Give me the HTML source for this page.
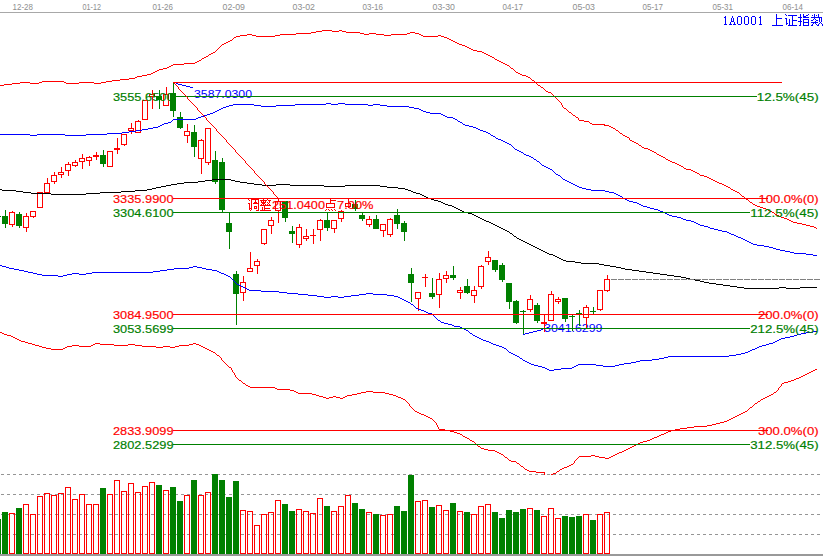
<!DOCTYPE html><html><head><meta charset="utf-8"><style>html,body{margin:0;padding:0;background:#fff;width:823px;height:557px;overflow:hidden}svg{display:block}text{font-family:"Liberation Sans",sans-serif}.b{stroke-width:0.16px}.bb{stroke-width:0.12px}.bc{stroke-width:0.45px}</style></head><body>
<svg width="823" height="557" viewBox="0 0 823 557">
<defs><clipPath id="main"><rect x="0" y="13" width="823" height="461.5"/></clipPath></defs>
<rect x="0" y="12" width="823" height="1" fill="#a8a8a8" shape-rendering="crispEdges"/>
<text x="12.6" y="10" font-size="9.8" fill="#8e8e8e" textLength="20.4" lengthAdjust="spacingAndGlyphs">12-28</text>
<text x="82.6" y="10" font-size="9.8" fill="#8e8e8e" textLength="18.4" lengthAdjust="spacingAndGlyphs">01-12</text>
<text x="152.6" y="10" font-size="9.8" fill="#8e8e8e" textLength="20.4" lengthAdjust="spacingAndGlyphs">01-26</text>
<text x="222.6" y="10" font-size="9.8" fill="#8e8e8e" textLength="22.4" lengthAdjust="spacingAndGlyphs">02-09</text>
<text x="292.6" y="10" font-size="9.8" fill="#8e8e8e" textLength="22.4" lengthAdjust="spacingAndGlyphs">03-02</text>
<text x="362.6" y="10" font-size="9.8" fill="#8e8e8e" textLength="20.4" lengthAdjust="spacingAndGlyphs">03-16</text>
<text x="432.6" y="10" font-size="9.8" fill="#8e8e8e" textLength="22.4" lengthAdjust="spacingAndGlyphs">03-30</text>
<text x="502.6" y="10" font-size="9.8" fill="#8e8e8e" textLength="20.4" lengthAdjust="spacingAndGlyphs">04-17</text>
<text x="572.6" y="10" font-size="9.8" fill="#8e8e8e" textLength="22.4" lengthAdjust="spacingAndGlyphs">05-03</text>
<text x="642.6" y="10" font-size="9.8" fill="#8e8e8e" textLength="20.4" lengthAdjust="spacingAndGlyphs">05-17</text>
<text x="712.6" y="10" font-size="9.8" fill="#8e8e8e" textLength="20.4" lengthAdjust="spacingAndGlyphs">05-31</text>
<text x="782.6" y="10" font-size="9.8" fill="#8e8e8e" textLength="20.4" lengthAdjust="spacingAndGlyphs">06-14</text>
<line x1="1" y1="474.5" x2="820" y2="474.5" stroke="#959595" stroke-width="1" stroke-dasharray="3 3" shape-rendering="crispEdges"/>
<line x1="1" y1="494.5" x2="820" y2="494.5" stroke="#959595" stroke-width="1" stroke-dasharray="3 3" shape-rendering="crispEdges"/>
<line x1="1" y1="514.5" x2="820" y2="514.5" stroke="#959595" stroke-width="1" stroke-dasharray="3 3" shape-rendering="crispEdges"/>
<line x1="1" y1="534.5" x2="820" y2="534.5" stroke="#959595" stroke-width="1" stroke-dasharray="3 3" shape-rendering="crispEdges"/>
<rect x="0" y="554" width="823" height="2" fill="#999999" shape-rendering="crispEdges"/>
<g shape-rendering="crispEdges">
<rect x="-5" y="519" width="6" height="35" fill="#008000"/>
<rect x="2" y="512" width="6" height="42" fill="#008000"/>
<rect x="9.5" y="513.5" width="5" height="40" fill="none" stroke="#ff0000" stroke-width="1"/>
<rect x="16" y="508" width="6" height="46" fill="#008000"/>
<rect x="23.5" y="504.5" width="5" height="49" fill="none" stroke="#ff0000" stroke-width="1"/>
<rect x="30.5" y="514.5" width="5" height="39" fill="none" stroke="#ff0000" stroke-width="1"/>
<rect x="37.5" y="496.5" width="5" height="57" fill="none" stroke="#ff0000" stroke-width="1"/>
<rect x="44.5" y="493.5" width="5" height="60" fill="none" stroke="#ff0000" stroke-width="1"/>
<rect x="51.5" y="495.5" width="5" height="58" fill="none" stroke="#ff0000" stroke-width="1"/>
<rect x="58.5" y="493.5" width="5" height="60" fill="none" stroke="#ff0000" stroke-width="1"/>
<rect x="65.5" y="487.5" width="5" height="66" fill="none" stroke="#ff0000" stroke-width="1"/>
<rect x="72.5" y="499.5" width="5" height="54" fill="none" stroke="#ff0000" stroke-width="1"/>
<rect x="79.5" y="494.5" width="5" height="59" fill="none" stroke="#ff0000" stroke-width="1"/>
<rect x="86.5" y="504.5" width="5" height="49" fill="none" stroke="#ff0000" stroke-width="1"/>
<rect x="93.5" y="504.5" width="5" height="49" fill="none" stroke="#ff0000" stroke-width="1"/>
<rect x="100" y="488" width="6" height="66" fill="#008000"/>
<rect x="107.5" y="494.5" width="5" height="59" fill="none" stroke="#ff0000" stroke-width="1"/>
<rect x="114.5" y="480.5" width="5" height="73" fill="none" stroke="#ff0000" stroke-width="1"/>
<rect x="121.5" y="491.5" width="5" height="62" fill="none" stroke="#ff0000" stroke-width="1"/>
<rect x="128.5" y="483.5" width="5" height="70" fill="none" stroke="#ff0000" stroke-width="1"/>
<rect x="135.5" y="492.5" width="5" height="61" fill="none" stroke="#ff0000" stroke-width="1"/>
<rect x="142.5" y="486.5" width="5" height="67" fill="none" stroke="#ff0000" stroke-width="1"/>
<rect x="149.5" y="482.5" width="5" height="71" fill="none" stroke="#ff0000" stroke-width="1"/>
<rect x="156" y="485" width="6" height="69" fill="#008000"/>
<rect x="163.5" y="490.5" width="5" height="63" fill="none" stroke="#ff0000" stroke-width="1"/>
<rect x="170" y="487" width="6" height="67" fill="#008000"/>
<rect x="177" y="501" width="6" height="53" fill="#008000"/>
<rect x="184.5" y="495.5" width="5" height="58" fill="none" stroke="#ff0000" stroke-width="1"/>
<rect x="191" y="480" width="6" height="74" fill="#008000"/>
<rect x="198.5" y="495.5" width="5" height="58" fill="none" stroke="#ff0000" stroke-width="1"/>
<rect x="205.5" y="492.5" width="5" height="61" fill="none" stroke="#ff0000" stroke-width="1"/>
<rect x="212" y="474" width="6" height="80" fill="#008000"/>
<rect x="219" y="480" width="6" height="74" fill="#008000"/>
<rect x="226" y="497" width="6" height="57" fill="#008000"/>
<rect x="233" y="481" width="6" height="73" fill="#008000"/>
<rect x="240.5" y="510.5" width="5" height="43" fill="none" stroke="#ff0000" stroke-width="1"/>
<rect x="247.5" y="511.5" width="5" height="42" fill="none" stroke="#ff0000" stroke-width="1"/>
<rect x="254.5" y="525.5" width="5" height="28" fill="none" stroke="#ff0000" stroke-width="1"/>
<rect x="261.5" y="514.5" width="5" height="39" fill="none" stroke="#ff0000" stroke-width="1"/>
<rect x="268.5" y="512.5" width="5" height="41" fill="none" stroke="#ff0000" stroke-width="1"/>
<rect x="275.5" y="500.5" width="5" height="53" fill="none" stroke="#ff0000" stroke-width="1"/>
<rect x="282" y="504" width="6" height="50" fill="#008000"/>
<rect x="289" y="511" width="6" height="43" fill="#008000"/>
<rect x="296.5" y="509.5" width="5" height="44" fill="none" stroke="#ff0000" stroke-width="1"/>
<rect x="303.5" y="511.5" width="5" height="42" fill="none" stroke="#ff0000" stroke-width="1"/>
<rect x="310.5" y="513.5" width="5" height="40" fill="none" stroke="#ff0000" stroke-width="1"/>
<rect x="317.5" y="498.5" width="5" height="55" fill="none" stroke="#ff0000" stroke-width="1"/>
<rect x="324" y="506" width="6" height="48" fill="#008000"/>
<rect x="331.5" y="511.5" width="5" height="42" fill="none" stroke="#ff0000" stroke-width="1"/>
<rect x="338.5" y="506.5" width="5" height="47" fill="none" stroke="#ff0000" stroke-width="1"/>
<rect x="345.5" y="495.5" width="5" height="58" fill="none" stroke="#ff0000" stroke-width="1"/>
<rect x="352" y="503" width="6" height="51" fill="#008000"/>
<rect x="359" y="509" width="6" height="45" fill="#008000"/>
<rect x="366.5" y="512.5" width="5" height="41" fill="none" stroke="#ff0000" stroke-width="1"/>
<rect x="373" y="514" width="6" height="40" fill="#008000"/>
<rect x="380.5" y="515.5" width="5" height="38" fill="none" stroke="#ff0000" stroke-width="1"/>
<rect x="387.5" y="514.5" width="5" height="39" fill="none" stroke="#ff0000" stroke-width="1"/>
<rect x="394" y="506" width="6" height="48" fill="#008000"/>
<rect x="401" y="511" width="6" height="43" fill="#008000"/>
<rect x="408" y="475" width="6" height="79" fill="#008000"/>
<rect x="415.5" y="501.5" width="5" height="52" fill="none" stroke="#ff0000" stroke-width="1"/>
<rect x="422.5" y="500.5" width="5" height="53" fill="none" stroke="#ff0000" stroke-width="1"/>
<rect x="429" y="507" width="6" height="47" fill="#008000"/>
<rect x="436.5" y="505.5" width="5" height="48" fill="none" stroke="#ff0000" stroke-width="1"/>
<rect x="443.5" y="510.5" width="5" height="43" fill="none" stroke="#ff0000" stroke-width="1"/>
<rect x="450" y="503" width="6" height="51" fill="#008000"/>
<rect x="457.5" y="511.5" width="5" height="42" fill="none" stroke="#ff0000" stroke-width="1"/>
<rect x="464" y="512" width="6" height="42" fill="#008000"/>
<rect x="471.5" y="514.5" width="5" height="39" fill="none" stroke="#ff0000" stroke-width="1"/>
<rect x="478.5" y="506.5" width="5" height="47" fill="none" stroke="#ff0000" stroke-width="1"/>
<rect x="485.5" y="504.5" width="5" height="49" fill="none" stroke="#ff0000" stroke-width="1"/>
<rect x="492" y="512" width="6" height="42" fill="#008000"/>
<rect x="499" y="518" width="6" height="36" fill="#008000"/>
<rect x="506" y="510" width="6" height="44" fill="#008000"/>
<rect x="513" y="512" width="6" height="42" fill="#008000"/>
<rect x="520" y="509" width="6" height="45" fill="#008000"/>
<rect x="527.5" y="508.5" width="5" height="45" fill="none" stroke="#ff0000" stroke-width="1"/>
<rect x="534" y="510" width="6" height="44" fill="#008000"/>
<rect x="541.5" y="516.5" width="5" height="37" fill="none" stroke="#ff0000" stroke-width="1"/>
<rect x="548.5" y="508.5" width="5" height="45" fill="none" stroke="#ff0000" stroke-width="1"/>
<rect x="555.5" y="518.5" width="5" height="35" fill="none" stroke="#ff0000" stroke-width="1"/>
<rect x="562" y="516" width="6" height="38" fill="#008000"/>
<rect x="569" y="517" width="6" height="37" fill="#008000"/>
<rect x="576" y="516" width="6" height="38" fill="#008000"/>
<rect x="583.5" y="514.5" width="5" height="39" fill="none" stroke="#ff0000" stroke-width="1"/>
<rect x="590" y="520" width="6" height="34" fill="#008000"/>
<rect x="597.5" y="514.5" width="5" height="39" fill="none" stroke="#ff0000" stroke-width="1"/>
<rect x="604.5" y="512.5" width="5" height="41" fill="none" stroke="#ff0000" stroke-width="1"/>
</g>
<text x="194" y="98" font-size="11.2" fill="#0000ff" textLength="58" lengthAdjust="spacingAndGlyphs">3587.0300</text>
<text x="544" y="332" font-size="11.2" fill="#0000ff" textLength="58.5" lengthAdjust="spacingAndGlyphs">3041.6299</text>
<g shape-rendering="crispEdges" clip-path="url(#main)">
<rect x="-2" y="216" width="1" height="1" fill="#008000"/>
<rect x="-5" y="216" width="6" height="1" fill="#008000"/>
<rect x="5" y="210" width="1" height="18" fill="#008000"/>
<rect x="2" y="216" width="6" height="8" fill="#008000"/>
<rect x="12" y="211" width="1" height="1" fill="#ff0000"/>
<rect x="12" y="225" width="1" height="2" fill="#ff0000"/>
<rect x="9.5" y="212.5" width="5" height="12" fill="none" stroke="#ff0000" stroke-width="1"/>
<rect x="19" y="212" width="1" height="16" fill="#008000"/>
<rect x="16" y="214" width="6" height="12" fill="#008000"/>
<rect x="26" y="213" width="1" height="3" fill="#ff0000"/>
<rect x="26" y="228" width="1" height="4" fill="#ff0000"/>
<rect x="23.5" y="216.5" width="5" height="11" fill="none" stroke="#ff0000" stroke-width="1"/>
<rect x="33" y="217" width="1" height="1" fill="#ff0000"/>
<rect x="30.5" y="211.5" width="5" height="5" fill="none" stroke="#ff0000" stroke-width="1"/>
<rect x="37.5" y="192.5" width="5" height="15" fill="none" stroke="#ff0000" stroke-width="1"/>
<rect x="47" y="178" width="1" height="5" fill="#ff0000"/>
<rect x="44.5" y="183.5" width="5" height="9" fill="none" stroke="#ff0000" stroke-width="1"/>
<rect x="54" y="172" width="1" height="3" fill="#ff0000"/>
<rect x="54" y="182" width="1" height="2" fill="#ff0000"/>
<rect x="51.5" y="175.5" width="5" height="6" fill="none" stroke="#ff0000" stroke-width="1"/>
<rect x="61" y="167" width="1" height="5" fill="#ff0000"/>
<rect x="61" y="175" width="1" height="3" fill="#ff0000"/>
<rect x="58.5" y="172.5" width="5" height="2" fill="none" stroke="#ff0000" stroke-width="1"/>
<rect x="68" y="162" width="1" height="2" fill="#ff0000"/>
<rect x="68" y="171" width="1" height="5" fill="#ff0000"/>
<rect x="65.5" y="164.5" width="5" height="6" fill="none" stroke="#ff0000" stroke-width="1"/>
<rect x="75" y="160" width="1" height="2" fill="#ff0000"/>
<rect x="75" y="166" width="1" height="1" fill="#ff0000"/>
<rect x="72.5" y="162.5" width="5" height="3" fill="none" stroke="#ff0000" stroke-width="1"/>
<rect x="82" y="154" width="1" height="4" fill="#ff0000"/>
<rect x="82" y="162" width="1" height="7" fill="#ff0000"/>
<rect x="79.5" y="158.5" width="5" height="3" fill="none" stroke="#ff0000" stroke-width="1"/>
<rect x="89" y="156" width="1" height="1" fill="#ff0000"/>
<rect x="89" y="161" width="1" height="5" fill="#ff0000"/>
<rect x="86.5" y="157.5" width="5" height="3" fill="none" stroke="#ff0000" stroke-width="1"/>
<rect x="96" y="152" width="1" height="3" fill="#ff0000"/>
<rect x="96" y="157" width="1" height="3" fill="#ff0000"/>
<rect x="93" y="155" width="6" height="2" fill="#ff0000"/>
<rect x="103" y="150" width="1" height="17" fill="#008000"/>
<rect x="100" y="155" width="6" height="9" fill="#008000"/>
<rect x="107.5" y="151.5" width="5" height="15" fill="none" stroke="#ff0000" stroke-width="1"/>
<rect x="117" y="138" width="1" height="10" fill="#ff0000"/>
<rect x="117" y="150" width="1" height="4" fill="#ff0000"/>
<rect x="114" y="148" width="6" height="2" fill="#ff0000"/>
<rect x="124" y="145" width="1" height="1" fill="#ff0000"/>
<rect x="121.5" y="134.5" width="5" height="10" fill="none" stroke="#ff0000" stroke-width="1"/>
<rect x="131" y="123" width="1" height="5" fill="#ff0000"/>
<rect x="131" y="131" width="1" height="3" fill="#ff0000"/>
<rect x="128.5" y="128.5" width="5" height="2" fill="none" stroke="#ff0000" stroke-width="1"/>
<rect x="138" y="120" width="1" height="1" fill="#ff0000"/>
<rect x="135.5" y="121.5" width="5" height="11" fill="none" stroke="#ff0000" stroke-width="1"/>
<rect x="142.5" y="100.5" width="5" height="19" fill="none" stroke="#ff0000" stroke-width="1"/>
<rect x="152" y="90" width="1" height="4" fill="#ff0000"/>
<rect x="152" y="97" width="1" height="12" fill="#ff0000"/>
<rect x="149.5" y="94.5" width="5" height="2" fill="none" stroke="#ff0000" stroke-width="1"/>
<rect x="159" y="90" width="1" height="19" fill="#008000"/>
<rect x="156" y="96" width="6" height="4" fill="#008000"/>
<rect x="166" y="87" width="1" height="7" fill="#ff0000"/>
<rect x="163.5" y="94.5" width="5" height="11" fill="none" stroke="#ff0000" stroke-width="1"/>
<rect x="173" y="82" width="1" height="35" fill="#008000"/>
<rect x="170" y="93" width="6" height="18" fill="#008000"/>
<rect x="180" y="112" width="1" height="17" fill="#008000"/>
<rect x="177" y="117" width="6" height="11" fill="#008000"/>
<rect x="187" y="124" width="1" height="7" fill="#ff0000"/>
<rect x="187" y="136" width="1" height="7" fill="#ff0000"/>
<rect x="184.5" y="131.5" width="5" height="4" fill="none" stroke="#ff0000" stroke-width="1"/>
<rect x="194" y="125" width="1" height="32" fill="#008000"/>
<rect x="191" y="132" width="6" height="15" fill="#008000"/>
<rect x="201" y="139" width="1" height="1" fill="#ff0000"/>
<rect x="201" y="159" width="1" height="15" fill="#ff0000"/>
<rect x="198.5" y="140.5" width="5" height="18" fill="none" stroke="#ff0000" stroke-width="1"/>
<rect x="208" y="163" width="1" height="2" fill="#ff0000"/>
<rect x="205.5" y="128.5" width="5" height="34" fill="none" stroke="#ff0000" stroke-width="1"/>
<rect x="215" y="151" width="1" height="33" fill="#008000"/>
<rect x="212" y="160" width="6" height="22" fill="#008000"/>
<rect x="222" y="158" width="1" height="54" fill="#008000"/>
<rect x="219" y="162" width="6" height="48" fill="#008000"/>
<rect x="229" y="213" width="1" height="36" fill="#008000"/>
<rect x="226" y="223" width="6" height="9" fill="#008000"/>
<rect x="236" y="271" width="1" height="54" fill="#008000"/>
<rect x="233" y="274" width="6" height="20" fill="#008000"/>
<rect x="243" y="276" width="1" height="6" fill="#ff0000"/>
<rect x="243" y="293" width="1" height="8" fill="#ff0000"/>
<rect x="240.5" y="282.5" width="5" height="10" fill="none" stroke="#ff0000" stroke-width="1"/>
<rect x="250" y="252" width="1" height="16" fill="#ff0000"/>
<rect x="247.5" y="268.5" width="5" height="3" fill="none" stroke="#ff0000" stroke-width="1"/>
<rect x="257" y="259" width="1" height="2" fill="#ff0000"/>
<rect x="257" y="266" width="1" height="8" fill="#ff0000"/>
<rect x="254.5" y="261.5" width="5" height="4" fill="none" stroke="#ff0000" stroke-width="1"/>
<rect x="264" y="244" width="1" height="1" fill="#ff0000"/>
<rect x="261.5" y="229.5" width="5" height="14" fill="none" stroke="#ff0000" stroke-width="1"/>
<rect x="271" y="217" width="1" height="3" fill="#ff0000"/>
<rect x="271" y="226" width="1" height="8" fill="#ff0000"/>
<rect x="268.5" y="220.5" width="5" height="5" fill="none" stroke="#ff0000" stroke-width="1"/>
<rect x="278" y="198" width="1" height="3" fill="#ff0000"/>
<rect x="278" y="211" width="1" height="12" fill="#ff0000"/>
<rect x="275.5" y="201.5" width="5" height="9" fill="none" stroke="#ff0000" stroke-width="1"/>
<rect x="285" y="201" width="1" height="21" fill="#008000"/>
<rect x="282" y="201" width="6" height="17" fill="#008000"/>
<rect x="292" y="226" width="1" height="17" fill="#008000"/>
<rect x="289" y="231" width="6" height="3" fill="#008000"/>
<rect x="299" y="224" width="1" height="3" fill="#ff0000"/>
<rect x="299" y="245" width="1" height="3" fill="#ff0000"/>
<rect x="296.5" y="227.5" width="5" height="17" fill="none" stroke="#ff0000" stroke-width="1"/>
<rect x="306" y="229" width="1" height="7" fill="#ff0000"/>
<rect x="306" y="239" width="1" height="2" fill="#ff0000"/>
<rect x="303.5" y="236.5" width="5" height="2" fill="none" stroke="#ff0000" stroke-width="1"/>
<rect x="313" y="229" width="1" height="6" fill="#ff0000"/>
<rect x="313" y="236" width="1" height="8" fill="#ff0000"/>
<rect x="310" y="235" width="6" height="1" fill="#ff0000"/>
<rect x="320" y="219" width="1" height="1" fill="#ff0000"/>
<rect x="320" y="230" width="1" height="11" fill="#ff0000"/>
<rect x="317.5" y="220.5" width="5" height="9" fill="none" stroke="#ff0000" stroke-width="1"/>
<rect x="327" y="212" width="1" height="19" fill="#008000"/>
<rect x="324" y="220" width="6" height="8" fill="#008000"/>
<rect x="334" y="229" width="1" height="4" fill="#ff0000"/>
<rect x="331.5" y="220.5" width="5" height="8" fill="none" stroke="#ff0000" stroke-width="1"/>
<rect x="341" y="210" width="1" height="1" fill="#ff0000"/>
<rect x="341" y="219" width="1" height="3" fill="#ff0000"/>
<rect x="338.5" y="211.5" width="5" height="7" fill="none" stroke="#ff0000" stroke-width="1"/>
<rect x="348" y="198" width="1" height="5" fill="#ff0000"/>
<rect x="348" y="207" width="1" height="1" fill="#ff0000"/>
<rect x="345.5" y="203.5" width="5" height="3" fill="none" stroke="#ff0000" stroke-width="1"/>
<rect x="355" y="200" width="1" height="11" fill="#008000"/>
<rect x="352" y="204" width="6" height="5" fill="#008000"/>
<rect x="362" y="212" width="1" height="9" fill="#008000"/>
<rect x="359" y="215" width="6" height="4" fill="#008000"/>
<rect x="369" y="216" width="1" height="3" fill="#ff0000"/>
<rect x="369" y="225" width="1" height="2" fill="#ff0000"/>
<rect x="366.5" y="219.5" width="5" height="5" fill="none" stroke="#ff0000" stroke-width="1"/>
<rect x="376" y="215" width="1" height="14" fill="#008000"/>
<rect x="373" y="219" width="6" height="10" fill="#008000"/>
<rect x="383" y="231" width="1" height="6" fill="#ff0000"/>
<rect x="380.5" y="224.5" width="5" height="6" fill="none" stroke="#ff0000" stroke-width="1"/>
<rect x="390" y="218" width="1" height="1" fill="#ff0000"/>
<rect x="390" y="235" width="1" height="2" fill="#ff0000"/>
<rect x="387.5" y="219.5" width="5" height="15" fill="none" stroke="#ff0000" stroke-width="1"/>
<rect x="397" y="209" width="1" height="20" fill="#008000"/>
<rect x="394" y="215" width="6" height="9" fill="#008000"/>
<rect x="404" y="221" width="1" height="20" fill="#008000"/>
<rect x="401" y="223" width="6" height="9" fill="#008000"/>
<rect x="411" y="268" width="1" height="34" fill="#008000"/>
<rect x="408" y="274" width="6" height="9" fill="#008000"/>
<rect x="418" y="299" width="1" height="12" fill="#ff0000"/>
<rect x="415.5" y="292.5" width="5" height="6" fill="none" stroke="#ff0000" stroke-width="1"/>
<rect x="425" y="274" width="1" height="3" fill="#ff0000"/>
<rect x="425" y="278" width="1" height="9" fill="#ff0000"/>
<rect x="422" y="277" width="6" height="1" fill="#ff0000"/>
<rect x="432" y="278" width="1" height="21" fill="#008000"/>
<rect x="429" y="293" width="6" height="4" fill="#008000"/>
<rect x="439" y="273" width="1" height="6" fill="#ff0000"/>
<rect x="439" y="295" width="1" height="13" fill="#ff0000"/>
<rect x="436.5" y="279.5" width="5" height="15" fill="none" stroke="#ff0000" stroke-width="1"/>
<rect x="446" y="271" width="1" height="4" fill="#ff0000"/>
<rect x="446" y="279" width="1" height="4" fill="#ff0000"/>
<rect x="443.5" y="275.5" width="5" height="3" fill="none" stroke="#ff0000" stroke-width="1"/>
<rect x="453" y="266" width="1" height="14" fill="#008000"/>
<rect x="450" y="275" width="6" height="3" fill="#008000"/>
<rect x="460" y="287" width="1" height="3" fill="#ff0000"/>
<rect x="460" y="293" width="1" height="6" fill="#ff0000"/>
<rect x="457.5" y="290.5" width="5" height="2" fill="none" stroke="#ff0000" stroke-width="1"/>
<rect x="467" y="279" width="1" height="15" fill="#008000"/>
<rect x="464" y="286" width="6" height="7" fill="#008000"/>
<rect x="474" y="286" width="1" height="4" fill="#ff0000"/>
<rect x="474" y="296" width="1" height="7" fill="#ff0000"/>
<rect x="471.5" y="290.5" width="5" height="5" fill="none" stroke="#ff0000" stroke-width="1"/>
<rect x="481" y="265" width="1" height="1" fill="#ff0000"/>
<rect x="481" y="287" width="1" height="2" fill="#ff0000"/>
<rect x="478.5" y="266.5" width="5" height="20" fill="none" stroke="#ff0000" stroke-width="1"/>
<rect x="488" y="251" width="1" height="6" fill="#ff0000"/>
<rect x="488" y="262" width="1" height="3" fill="#ff0000"/>
<rect x="485.5" y="257.5" width="5" height="4" fill="none" stroke="#ff0000" stroke-width="1"/>
<rect x="495" y="260" width="1" height="12" fill="#008000"/>
<rect x="492" y="260" width="6" height="10" fill="#008000"/>
<rect x="502" y="263" width="1" height="19" fill="#008000"/>
<rect x="499" y="265" width="6" height="15" fill="#008000"/>
<rect x="509" y="283" width="1" height="26" fill="#008000"/>
<rect x="506" y="283" width="6" height="19" fill="#008000"/>
<rect x="516" y="300" width="1" height="24" fill="#008000"/>
<rect x="513" y="301" width="6" height="22" fill="#008000"/>
<rect x="523" y="310" width="1" height="25" fill="#008000"/>
<rect x="520" y="311" width="6" height="1" fill="#008000"/>
<rect x="530" y="295" width="1" height="4" fill="#ff0000"/>
<rect x="530" y="310" width="1" height="2" fill="#ff0000"/>
<rect x="527.5" y="299.5" width="5" height="10" fill="none" stroke="#ff0000" stroke-width="1"/>
<rect x="537" y="303" width="1" height="20" fill="#008000"/>
<rect x="534" y="305" width="6" height="16" fill="#008000"/>
<rect x="544" y="314" width="1" height="8" fill="#ff0000"/>
<rect x="544" y="324" width="1" height="8" fill="#ff0000"/>
<rect x="541" y="322" width="6" height="2" fill="#ff0000"/>
<rect x="551" y="291" width="1" height="3" fill="#ff0000"/>
<rect x="548.5" y="294.5" width="5" height="26" fill="none" stroke="#ff0000" stroke-width="1"/>
<rect x="558" y="297" width="1" height="2" fill="#ff0000"/>
<rect x="558" y="302" width="1" height="2" fill="#ff0000"/>
<rect x="555.5" y="299.5" width="5" height="2" fill="none" stroke="#ff0000" stroke-width="1"/>
<rect x="565" y="298" width="1" height="24" fill="#008000"/>
<rect x="562" y="298" width="6" height="21" fill="#008000"/>
<rect x="572" y="315" width="1" height="16" fill="#008000"/>
<rect x="569" y="316" width="6" height="1" fill="#008000"/>
<rect x="579" y="310" width="1" height="16" fill="#008000"/>
<rect x="576" y="313" width="6" height="2" fill="#008000"/>
<rect x="586" y="305" width="1" height="2" fill="#ff0000"/>
<rect x="586" y="318" width="1" height="10" fill="#ff0000"/>
<rect x="583.5" y="307.5" width="5" height="10" fill="none" stroke="#ff0000" stroke-width="1"/>
<rect x="593" y="307" width="1" height="7" fill="#008000"/>
<rect x="590" y="311" width="6" height="1" fill="#008000"/>
<rect x="600" y="310" width="1" height="1" fill="#ff0000"/>
<rect x="597.5" y="290.5" width="5" height="19" fill="none" stroke="#ff0000" stroke-width="1"/>
<rect x="607" y="275" width="1" height="4" fill="#ff0000"/>
<rect x="607" y="291" width="1" height="1" fill="#ff0000"/>
<rect x="604.5" y="279.5" width="5" height="11" fill="none" stroke="#ff0000" stroke-width="1"/>
</g>
<path d="M322,30h10v1h-10zM339,30h3v1h-3zM316,31h6v1h-6zM332,31h7v1h-7zM342,31h4v1h-4zM311,32h5v1h-5zM346,32h14v1h-14zM410,32h5v1h-5zM296,33h15v1h-15zM360,33h4v1h-4zM369,33h7v1h-7zM407,33h3v1h-3zM415,33h4v1h-4zM247,34h5v1h-5zM280,34h16v1h-16zM364,34h5v1h-5zM376,34h8v1h-8zM391,34h16v1h-16zM419,34h2v1h-2zM240,35h7v1h-7zM252,35h4v1h-4zM275,35h5v1h-5zM384,35h7v1h-7zM421,35h2v1h-2zM438,35h3v1h-3zM236,36h4v1h-4zM256,36h19v1h-19zM423,36h15v1h-15zM441,36h3v1h-3zM234,37h2v1h-2zM444,37h3v1h-3zM233,38h1v1h-1zM447,38h2v1h-2zM232,39h1v1h-1zM449,39h2v1h-2zM230,40h2v1h-2zM451,40h2v1h-2zM228,41h2v1h-2zM453,41h2v1h-2zM226,42h2v1h-2zM455,42h2v1h-2zM224,43h2v1h-2zM457,43h2v1h-2zM222,44h2v1h-2zM459,44h3v1h-3zM221,45h1v1h-1zM462,45h3v1h-3zM220,46h1v1h-1zM465,46h2v1h-2zM219,47h1v1h-1zM467,47h2v1h-2zM218,48h1v1h-1zM469,48h2v1h-2zM217,49h1v1h-1zM471,49h2v1h-2zM216,50h1v1h-1zM473,50h4v1h-4zM215,51h1v1h-1zM477,51h5v1h-5zM213,52h2v1h-2zM482,52h2v1h-2zM211,53h2v1h-2zM484,53h2v1h-2zM209,54h2v1h-2zM486,54h2v1h-2zM208,55h1v1h-1zM488,55h2v1h-2zM206,56h2v1h-2zM490,56h2v1h-2zM204,57h2v1h-2zM492,57h2v1h-2zM202,58h2v1h-2zM494,58h1v1h-1zM201,59h1v1h-1zM495,59h2v1h-2zM199,60h2v1h-2zM497,60h2v1h-2zM197,61h2v1h-2zM499,61h2v1h-2zM195,62h2v1h-2zM501,62h2v1h-2zM184,63h11v1h-11zM503,63h2v1h-2zM173,64h11v1h-11zM505,64h2v1h-2zM171,65h2v1h-2zM507,65h2v1h-2zM169,66h2v1h-2zM509,66h1v1h-1zM167,67h2v1h-2zM510,67h1v1h-1zM163,68h4v1h-4zM511,68h2v1h-2zM159,69h4v1h-4zM513,69h1v1h-1zM157,70h2v1h-2zM514,70h1v1h-1zM155,71h2v1h-2zM515,71h1v1h-1zM153,72h2v1h-2zM516,72h2v1h-2zM151,73h2v1h-2zM518,73h2v1h-2zM147,74h4v1h-4zM520,74h2v1h-2zM142,75h5v1h-5zM522,75h4v1h-4zM137,76h5v1h-5zM526,76h2v1h-2zM135,77h2v1h-2zM528,77h2v1h-2zM129,78h6v1h-6zM530,78h1v1h-1zM120,79h9v1h-9zM531,79h1v1h-1zM112,80h8v1h-8zM532,80h2v1h-2zM42,81h22v1h-22zM106,81h6v1h-6zM534,81h1v1h-1zM20,82h10v1h-10zM39,82h3v1h-3zM64,82h2v1h-2zM79,82h15v1h-15zM101,82h5v1h-5zM535,82h1v1h-1zM12,83h8v1h-8zM30,83h9v1h-9zM66,83h13v1h-13zM94,83h7v1h-7zM536,83h1v1h-1zM4,84h8v1h-8zM537,84h1v1h-1zM0,85h4v1h-4zM538,85h2v1h-2zM540,86h1v1h-1zM541,87h2v1h-2zM543,88h1v1h-1zM544,89h1v1h-1zM545,90h1v1h-1zM546,91h2v1h-2zM548,92h3v1h-3zM551,93h1v1h-1zM552,94h1v1h-1zM553,95h1v1h-1zM554,96h1v1h-1zM555,97h1v1h-1zM556,98h1v1h-1zM557,99h1v1h-1zM558,100h1v1h-1zM559,101h1v1h-1zM560,102h1v1h-1zM561,103h1v1h-1zM561,104h1v1h-1zM562,105h1v1h-1zM562,106h1v1h-1zM563,107h1v1h-1zM564,108h2v1h-2zM566,109h1v1h-1zM567,110h1v1h-1zM568,111h1v1h-1zM569,112h2v1h-2zM571,113h1v1h-1zM572,114h1v1h-1zM573,115h2v1h-2zM575,116h1v1h-1zM576,117h2v1h-2zM578,118h1v1h-1zM578,119h1v1h-1zM579,120h5v1h-5zM584,121h5v1h-5zM589,122h1v1h-1zM590,123h2v1h-2zM592,124h13v1h-13zM604,125h5v1h-5zM609,126h2v1h-2zM611,127h2v1h-2zM613,128h2v1h-2zM615,129h1v1h-1zM616,130h2v1h-2zM618,131h1v1h-1zM619,132h1v1h-1zM620,133h2v1h-2zM622,134h1v1h-1zM623,135h2v1h-2zM625,136h2v1h-2zM627,137h2v1h-2zM629,138h1v1h-1zM629,139h1v1h-1zM630,140h2v1h-2zM632,141h2v1h-2zM634,142h2v1h-2zM636,143h2v1h-2zM638,144h1v1h-1zM639,145h2v1h-2zM641,146h1v1h-1zM642,147h2v1h-2zM644,148h4v1h-4zM648,149h2v1h-2zM650,150h2v1h-2zM652,151h2v1h-2zM654,152h2v1h-2zM656,153h1v1h-1zM657,154h2v1h-2zM659,155h2v1h-2zM661,156h2v1h-2zM663,157h2v1h-2zM665,158h1v1h-1zM666,159h2v1h-2zM668,160h2v1h-2zM670,161h2v1h-2zM672,162h3v1h-3zM675,163h2v1h-2zM677,164h2v1h-2zM679,165h2v1h-2zM681,166h2v1h-2zM683,167h1v1h-1zM684,168h2v1h-2zM686,169h5v1h-5zM691,170h2v1h-2zM693,171h2v1h-2zM695,172h2v1h-2zM697,173h2v1h-2zM699,174h1v1h-1zM700,175h4v1h-4zM704,176h3v1h-3zM707,177h2v1h-2zM709,178h2v1h-2zM711,179h2v1h-2zM713,180h2v1h-2zM715,181h2v1h-2zM717,182h2v1h-2zM719,183h3v1h-3zM722,184h2v1h-2zM724,185h2v1h-2zM726,186h2v1h-2zM728,187h2v1h-2zM730,188h1v1h-1zM731,189h2v1h-2zM733,190h2v1h-2zM735,191h2v1h-2zM737,192h2v1h-2zM739,193h1v1h-1zM740,194h1v1h-1zM741,195h1v1h-1zM742,196h2v1h-2zM744,197h1v1h-1zM745,198h1v1h-1zM746,199h2v1h-2zM748,200h1v1h-1zM749,201h1v1h-1zM750,202h2v1h-2zM752,203h1v1h-1zM753,204h2v1h-2zM755,205h2v1h-2zM757,206h3v1h-3zM760,207h3v1h-3zM763,208h3v1h-3zM766,209h2v1h-2zM768,210h2v1h-2zM770,211h2v1h-2zM772,212h2v1h-2zM774,213h1v1h-1zM775,214h2v1h-2zM777,215h2v1h-2zM779,216h2v1h-2zM781,217h3v1h-3zM784,218h3v1h-3zM787,219h2v1h-2zM789,220h2v1h-2zM791,221h2v1h-2zM793,222h4v1h-4zM797,223h5v1h-5zM802,224h4v1h-4zM806,225h4v1h-4zM810,226h4v1h-4zM814,227h2v1h-2zM816,228h1v1h-1z" fill="#ff0000" shape-rendering="crispEdges"/>
<path d="M326,103h5v1h-5zM338,103h7v1h-7zM233,104h21v1h-21zM295,104h31v1h-31zM331,104h7v1h-7zM345,104h23v1h-23zM373,104h7v1h-7zM229,105h4v1h-4zM254,105h7v1h-7zM276,105h19v1h-19zM368,105h5v1h-5zM380,105h7v1h-7zM226,106h3v1h-3zM261,106h15v1h-15zM387,106h22v1h-22zM223,107h3v1h-3zM409,107h5v1h-5zM221,108h2v1h-2zM414,108h5v1h-5zM219,109h2v1h-2zM419,109h2v1h-2zM217,110h2v1h-2zM421,110h2v1h-2zM215,111h2v1h-2zM423,111h3v1h-3zM213,112h2v1h-2zM426,112h4v1h-4zM210,113h3v1h-3zM430,113h11v1h-11zM207,114h3v1h-3zM441,114h2v1h-2zM204,115h3v1h-3zM443,115h2v1h-2zM201,116h3v1h-3zM445,116h2v1h-2zM198,117h3v1h-3zM447,117h6v1h-6zM196,118h2v1h-2zM453,118h2v1h-2zM173,119h23v1h-23zM455,119h2v1h-2zM172,120h1v1h-1zM457,120h1v1h-1zM171,121h1v1h-1zM458,121h2v1h-2zM168,122h3v1h-3zM460,122h2v1h-2zM164,123h4v1h-4zM462,123h1v1h-1zM162,124h2v1h-2zM463,124h2v1h-2zM160,125h2v1h-2zM465,125h4v1h-4zM158,126h2v1h-2zM469,126h4v1h-4zM153,127h5v1h-5zM473,127h3v1h-3zM148,128h5v1h-5zM476,128h2v1h-2zM142,129h6v1h-6zM478,129h2v1h-2zM136,130h6v1h-6zM480,130h3v1h-3zM129,131h7v1h-7zM483,131h3v1h-3zM122,132h7v1h-7zM486,132h2v1h-2zM107,133h15v1h-15zM488,133h2v1h-2zM0,134h30v1h-30zM37,134h28v1h-28zM86,134h21v1h-21zM490,134h1v1h-1zM30,135h7v1h-7zM65,135h21v1h-21zM491,135h2v1h-2zM493,136h2v1h-2zM495,137h1v1h-1zM496,138h2v1h-2zM498,139h3v1h-3zM501,140h2v1h-2zM503,141h2v1h-2zM505,142h2v1h-2zM507,143h2v1h-2zM509,144h2v1h-2zM511,145h1v1h-1zM512,146h1v1h-1zM513,147h1v1h-1zM514,148h1v1h-1zM515,149h2v1h-2zM517,150h2v1h-2zM519,151h2v1h-2zM521,152h2v1h-2zM523,153h1v1h-1zM524,154h2v1h-2zM526,155h3v1h-3zM529,156h2v1h-2zM531,157h2v1h-2zM533,158h1v1h-1zM534,159h2v1h-2zM536,160h1v1h-1zM537,161h2v1h-2zM539,162h1v1h-1zM540,163h1v1h-1zM541,164h1v1h-1zM542,165h2v1h-2zM544,166h2v1h-2zM546,167h2v1h-2zM548,168h2v1h-2zM550,169h2v1h-2zM552,170h1v1h-1zM553,171h1v1h-1zM554,172h1v1h-1zM555,173h1v1h-1zM556,174h2v1h-2zM558,175h2v1h-2zM560,176h1v1h-1zM561,177h1v1h-1zM562,178h1v1h-1zM563,179h2v1h-2zM565,180h2v1h-2zM567,181h2v1h-2zM569,182h2v1h-2zM571,183h2v1h-2zM573,184h2v1h-2zM575,185h2v1h-2zM577,186h2v1h-2zM579,187h3v1h-3zM582,188h4v1h-4zM586,189h5v1h-5zM591,190h14v1h-14zM605,191h4v1h-4zM609,192h5v1h-5zM614,193h2v1h-2zM616,194h2v1h-2zM618,195h2v1h-2zM620,196h2v1h-2zM622,197h1v1h-1zM623,198h2v1h-2zM625,199h2v1h-2zM627,200h2v1h-2zM629,201h4v1h-4zM633,202h4v1h-4zM637,203h2v1h-2zM639,204h2v1h-2zM641,205h2v1h-2zM643,206h4v1h-4zM647,207h3v1h-3zM650,208h4v1h-4zM654,209h4v1h-4zM658,210h2v1h-2zM660,211h3v1h-3zM663,212h2v1h-2zM665,213h2v1h-2zM667,214h2v1h-2zM669,215h3v1h-3zM672,216h5v1h-5zM677,217h4v1h-4zM681,218h2v1h-2zM683,219h3v1h-3zM686,220h5v1h-5zM691,221h3v1h-3zM694,222h2v1h-2zM696,223h2v1h-2zM698,224h2v1h-2zM700,225h4v1h-4zM704,226h4v1h-4zM708,227h2v1h-2zM710,228h4v1h-4zM714,229h4v1h-4zM718,230h4v1h-4zM722,231h5v1h-5zM727,232h2v1h-2zM729,233h2v1h-2zM731,234h3v1h-3zM734,235h2v1h-2zM736,236h2v1h-2zM738,237h3v1h-3zM741,238h2v1h-2zM743,239h2v1h-2zM745,240h2v1h-2zM747,241h2v1h-2zM749,242h2v1h-2zM751,243h2v1h-2zM753,244h4v1h-4zM757,245h7v1h-7zM764,246h5v1h-5zM769,247h4v1h-4zM773,248h3v1h-3zM776,249h4v1h-4zM780,250h5v1h-5zM785,251h5v1h-5zM790,252h4v1h-4zM794,253h12v1h-12zM806,254h7v1h-7zM813,255h4v1h-4z" fill="#0000ff" shape-rendering="crispEdges"/>
<path d="M212,179h19v1h-19zM205,180h7v1h-7zM231,180h4v1h-4zM198,181h7v1h-7zM235,181h5v1h-5zM184,182h14v1h-14zM240,182h7v1h-7zM177,183h7v1h-7zM247,183h7v1h-7zM171,184h6v1h-6zM254,184h8v1h-8zM276,184h14v1h-14zM166,185h5v1h-5zM262,185h14v1h-14zM290,185h34v1h-34zM345,185h35v1h-35zM161,186h5v1h-5zM324,186h21v1h-21zM380,186h7v1h-7zM156,187h5v1h-5zM387,187h11v1h-11zM152,188h4v1h-4zM398,188h7v1h-7zM0,189h2v1h-2zM147,189h5v1h-5zM405,189h3v1h-3zM2,190h14v1h-14zM135,190h12v1h-12zM408,190h3v1h-3zM16,191h7v1h-7zM121,191h14v1h-14zM411,191h2v1h-2zM23,192h8v1h-8zM100,192h21v1h-21zM413,192h3v1h-3zM31,193h20v1h-20zM86,193h14v1h-14zM416,193h4v1h-4zM51,194h35v1h-35zM420,194h2v1h-2zM422,195h2v1h-2zM424,196h2v1h-2zM426,197h2v1h-2zM428,198h3v1h-3zM431,199h3v1h-3zM434,200h4v1h-4zM438,201h3v1h-3zM441,202h2v1h-2zM443,203h2v1h-2zM445,204h3v1h-3zM448,205h4v1h-4zM452,206h2v1h-2zM454,207h2v1h-2zM456,208h2v1h-2zM458,209h2v1h-2zM460,210h2v1h-2zM462,211h2v1h-2zM464,212h4v1h-4zM468,213h4v1h-4zM472,214h2v1h-2zM474,215h2v1h-2zM476,216h2v1h-2zM478,217h2v1h-2zM480,218h2v1h-2zM482,219h2v1h-2zM484,220h2v1h-2zM486,221h3v1h-3zM489,222h2v1h-2zM491,223h2v1h-2zM493,224h2v1h-2zM495,225h2v1h-2zM497,226h2v1h-2zM499,227h2v1h-2zM501,228h2v1h-2zM503,229h2v1h-2zM505,230h2v1h-2zM507,231h2v1h-2zM509,232h1v1h-1zM510,233h2v1h-2zM512,234h1v1h-1zM513,235h1v1h-1zM514,236h2v1h-2zM516,237h1v1h-1zM517,238h2v1h-2zM519,239h2v1h-2zM521,240h2v1h-2zM523,241h2v1h-2zM525,242h2v1h-2zM527,243h2v1h-2zM529,244h2v1h-2zM531,245h2v1h-2zM533,246h2v1h-2zM535,247h2v1h-2zM537,248h2v1h-2zM539,249h2v1h-2zM541,250h2v1h-2zM543,251h2v1h-2zM545,252h2v1h-2zM547,253h2v1h-2zM549,254h4v1h-4zM553,255h2v1h-2zM555,256h2v1h-2zM557,257h2v1h-2zM559,258h2v1h-2zM561,259h2v1h-2zM563,260h3v1h-3zM566,261h9v1h-9zM575,262h6v1h-6zM581,263h18v1h-18zM599,264h5v1h-5zM604,265h6v1h-6zM610,266h6v1h-6zM616,267h5v1h-5zM621,268h4v1h-4zM625,269h7v1h-7zM632,270h7v1h-7zM639,271h7v1h-7zM646,272h7v1h-7zM653,273h7v1h-7zM660,274h7v1h-7zM667,275h7v1h-7zM674,276h7v1h-7zM681,277h5v1h-5zM686,278h4v1h-4zM690,279h5v1h-5zM695,280h5v1h-5zM700,281h4v1h-4zM704,282h5v1h-5zM709,283h7v1h-7zM716,284h7v1h-7zM723,285h7v1h-7zM730,286h7v1h-7zM737,287h7v1h-7zM779,287h7v1h-7zM800,287h17v1h-17zM744,288h35v1h-35zM786,288h14v1h-14z" fill="#000000" shape-rendering="crispEdges"/>
<path d="M0,265h2v1h-2zM2,266h4v1h-4zM193,266h4v1h-4zM6,267h3v1h-3zM189,267h4v1h-4zM197,267h5v1h-5zM9,268h5v1h-5zM174,268h15v1h-15zM202,268h4v1h-4zM14,269h5v1h-5zM167,269h7v1h-7zM206,269h6v1h-6zM19,270h5v1h-5zM160,270h7v1h-7zM212,270h5v1h-5zM24,271h4v1h-4zM153,271h7v1h-7zM217,271h2v1h-2zM28,272h5v1h-5zM92,272h61v1h-61zM219,272h2v1h-2zM33,273h4v1h-4zM72,273h7v1h-7zM86,273h6v1h-6zM221,273h3v1h-3zM37,274h5v1h-5zM67,274h5v1h-5zM79,274h7v1h-7zM224,274h2v1h-2zM42,275h16v1h-16zM63,275h4v1h-4zM226,275h2v1h-2zM58,276h5v1h-5zM228,276h2v1h-2zM230,277h1v1h-1zM231,278h1v1h-1zM232,279h1v1h-1zM233,280h1v1h-1zM234,281h1v1h-1zM235,282h1v1h-1zM236,283h1v1h-1zM237,284h2v1h-2zM239,285h2v1h-2zM241,286h2v1h-2zM243,287h2v1h-2zM245,288h2v1h-2zM247,289h2v1h-2zM249,290h12v1h-12zM261,291h18v1h-18zM279,292h8v1h-8zM287,293h11v1h-11zM366,293h7v1h-7zM298,294h10v1h-10zM359,294h7v1h-7zM373,294h14v1h-14zM308,295h9v1h-9zM351,295h8v1h-8zM387,295h7v1h-7zM317,296h7v1h-7zM331,296h7v1h-7zM344,296h7v1h-7zM394,296h4v1h-4zM324,297h7v1h-7zM338,297h6v1h-6zM398,297h2v1h-2zM400,298h2v1h-2zM402,299h2v1h-2zM404,300h2v1h-2zM406,301h2v1h-2zM408,302h2v1h-2zM410,303h1v1h-1zM411,304h2v1h-2zM413,305h1v1h-1zM414,306h1v1h-1zM415,307h1v1h-1zM416,308h2v1h-2zM418,309h3v1h-3zM421,310h3v1h-3zM424,311h2v1h-2zM426,312h2v1h-2zM428,313h4v1h-4zM432,314h1v1h-1zM433,315h1v1h-1zM434,316h1v1h-1zM435,317h1v1h-1zM436,318h1v1h-1zM437,319h1v1h-1zM438,320h2v1h-2zM440,321h1v1h-1zM441,322h3v1h-3zM444,323h4v1h-4zM448,324h4v1h-4zM452,325h2v1h-2zM454,326h6v1h-6zM460,327h2v1h-2zM462,328h2v1h-2zM464,329h2v1h-2zM466,330h2v1h-2zM468,331h1v1h-1zM813,331h4v1h-4zM469,332h1v1h-1zM806,332h7v1h-7zM470,333h2v1h-2zM801,333h5v1h-5zM472,334h1v1h-1zM797,334h4v1h-4zM473,335h2v1h-2zM794,335h3v1h-3zM475,336h2v1h-2zM790,336h4v1h-4zM477,337h2v1h-2zM785,337h5v1h-5zM479,338h2v1h-2zM781,338h4v1h-4zM481,339h2v1h-2zM779,339h2v1h-2zM483,340h3v1h-3zM777,340h2v1h-2zM486,341h3v1h-3zM775,341h2v1h-2zM489,342h2v1h-2zM773,342h2v1h-2zM491,343h2v1h-2zM769,343h4v1h-4zM493,344h3v1h-3zM766,344h3v1h-3zM496,345h3v1h-3zM762,345h4v1h-4zM499,346h3v1h-3zM759,346h3v1h-3zM502,347h2v1h-2zM757,347h2v1h-2zM504,348h2v1h-2zM755,348h2v1h-2zM506,349h1v1h-1zM752,349h3v1h-3zM507,350h1v1h-1zM750,350h2v1h-2zM508,351h1v1h-1zM748,351h2v1h-2zM509,352h2v1h-2zM745,352h3v1h-3zM511,353h2v1h-2zM741,353h4v1h-4zM513,354h2v1h-2zM736,354h5v1h-5zM515,355h2v1h-2zM729,355h7v1h-7zM517,356h2v1h-2zM668,356h61v1h-61zM519,357h1v1h-1zM664,357h4v1h-4zM520,358h2v1h-2zM659,358h5v1h-5zM522,359h1v1h-1zM652,359h7v1h-7zM523,360h2v1h-2zM640,360h12v1h-12zM525,361h2v1h-2zM636,361h4v1h-4zM527,362h2v1h-2zM631,362h5v1h-5zM529,363h2v1h-2zM624,363h7v1h-7zM531,364h3v1h-3zM578,364h18v1h-18zM619,364h5v1h-5zM534,365h4v1h-4zM576,365h2v1h-2zM596,365h7v1h-7zM615,365h4v1h-4zM538,366h4v1h-4zM574,366h2v1h-2zM603,366h12v1h-12zM542,367h3v1h-3zM572,367h2v1h-2zM545,368h2v1h-2zM561,368h11v1h-11zM547,369h2v1h-2zM554,369h7v1h-7zM549,370h5v1h-5z" fill="#0000ff" shape-rendering="crispEdges"/>
<path d="M0,332h2v1h-2zM2,333h2v1h-2zM4,334h3v1h-3zM7,335h4v1h-4zM11,336h2v1h-2zM13,337h2v1h-2zM15,338h2v1h-2zM17,339h2v1h-2zM19,340h2v1h-2zM21,341h4v1h-4zM25,342h3v1h-3zM28,343h4v1h-4zM95,343h5v1h-5zM193,343h3v1h-3zM32,344h3v1h-3zM93,344h2v1h-2zM100,344h14v1h-14zM128,344h7v1h-7zM189,344h4v1h-4zM196,344h3v1h-3zM35,345h4v1h-4zM72,345h7v1h-7zM91,345h2v1h-2zM114,345h14v1h-14zM135,345h7v1h-7zM179,345h10v1h-10zM199,345h2v1h-2zM39,346h3v1h-3zM67,346h5v1h-5zM79,346h12v1h-12zM142,346h14v1h-14zM163,346h7v1h-7zM175,346h4v1h-4zM201,346h2v1h-2zM42,347h4v1h-4zM65,347h2v1h-2zM156,347h7v1h-7zM170,347h5v1h-5zM203,347h2v1h-2zM46,348h5v1h-5zM63,348h2v1h-2zM205,348h2v1h-2zM51,349h12v1h-12zM207,349h2v1h-2zM209,350h2v1h-2zM211,351h2v1h-2zM213,352h2v1h-2zM215,353h1v1h-1zM216,354h1v1h-1zM217,355h2v1h-2zM219,356h1v1h-1zM220,357h1v1h-1zM221,358h1v1h-1zM221,359h1v1h-1zM222,360h1v1h-1zM223,361h1v1h-1zM224,362h1v1h-1zM225,363h1v1h-1zM226,364h1v1h-1zM227,365h1v1h-1zM228,366h1v1h-1zM229,367h2v1h-2zM231,368h1v1h-1zM231,369h1v1h-1zM815,369h2v1h-2zM232,370h1v1h-1zM813,370h2v1h-2zM232,371h1v1h-1zM811,371h2v1h-2zM233,372h1v1h-1zM809,372h2v1h-2zM234,373h1v1h-1zM807,373h2v1h-2zM234,374h1v1h-1zM805,374h2v1h-2zM235,375h1v1h-1zM803,375h2v1h-2zM235,376h1v1h-1zM801,376h2v1h-2zM236,377h1v1h-1zM799,377h2v1h-2zM237,378h1v1h-1zM796,378h3v1h-3zM238,379h1v1h-1zM794,379h2v1h-2zM239,380h2v1h-2zM791,380h3v1h-3zM241,381h1v1h-1zM788,381h3v1h-3zM242,382h1v1h-1zM784,382h4v1h-4zM243,383h2v1h-2zM782,383h2v1h-2zM245,384h1v1h-1zM781,384h1v1h-1zM246,385h2v1h-2zM781,385h1v1h-1zM248,386h2v1h-2zM780,386h1v1h-1zM250,387h25v1h-25zM779,387h1v1h-1zM275,388h2v1h-2zM778,388h1v1h-1zM277,389h13v1h-13zM778,389h1v1h-1zM290,390h4v1h-4zM777,390h1v1h-1zM294,391h2v1h-2zM366,391h7v1h-7zM776,391h1v1h-1zM296,392h2v1h-2zM361,392h5v1h-5zM373,392h12v1h-12zM774,392h2v1h-2zM298,393h14v1h-14zM357,393h4v1h-4zM385,393h4v1h-4zM773,393h1v1h-1zM312,394h4v1h-4zM352,394h5v1h-5zM389,394h4v1h-4zM771,394h2v1h-2zM316,395h3v1h-3zM347,395h5v1h-5zM393,395h3v1h-3zM769,395h2v1h-2zM319,396h4v1h-4zM333,396h3v1h-3zM345,396h2v1h-2zM396,396h2v1h-2zM767,396h2v1h-2zM323,397h3v1h-3zM329,397h4v1h-4zM336,397h4v1h-4zM343,397h2v1h-2zM398,397h3v1h-3zM765,397h2v1h-2zM326,398h3v1h-3zM340,398h3v1h-3zM401,398h2v1h-2zM763,398h2v1h-2zM403,399h2v1h-2zM761,399h2v1h-2zM405,400h1v1h-1zM760,400h1v1h-1zM406,401h1v1h-1zM758,401h2v1h-2zM407,402h1v1h-1zM757,402h1v1h-1zM408,403h1v1h-1zM755,403h2v1h-2zM409,404h1v1h-1zM754,404h1v1h-1zM409,405h1v1h-1zM753,405h1v1h-1zM410,406h1v1h-1zM752,406h1v1h-1zM411,407h1v1h-1zM750,407h2v1h-2zM412,408h1v1h-1zM749,408h1v1h-1zM413,409h1v1h-1zM748,409h1v1h-1zM414,410h1v1h-1zM747,410h1v1h-1zM415,411h2v1h-2zM745,411h2v1h-2zM417,412h2v1h-2zM743,412h2v1h-2zM419,413h2v1h-2zM741,413h2v1h-2zM421,414h3v1h-3zM739,414h2v1h-2zM424,415h2v1h-2zM737,415h2v1h-2zM426,416h2v1h-2zM735,416h2v1h-2zM428,417h2v1h-2zM733,417h2v1h-2zM430,418h2v1h-2zM731,418h2v1h-2zM432,419h1v1h-1zM729,419h2v1h-2zM433,420h1v1h-1zM727,420h2v1h-2zM434,421h1v1h-1zM724,421h3v1h-3zM435,422h1v1h-1zM720,422h4v1h-4zM436,423h1v1h-1zM716,423h4v1h-4zM436,424h1v1h-1zM712,424h4v1h-4zM437,425h1v1h-1zM707,425h5v1h-5zM437,426h1v1h-1zM694,426h13v1h-13zM438,427h1v1h-1zM687,427h7v1h-7zM438,428h1v1h-1zM680,428h7v1h-7zM439,429h6v1h-6zM675,429h5v1h-5zM445,430h5v1h-5zM671,430h4v1h-4zM450,431h4v1h-4zM668,431h3v1h-3zM454,432h3v1h-3zM666,432h2v1h-2zM457,433h3v1h-3zM664,433h2v1h-2zM460,434h2v1h-2zM661,434h3v1h-3zM462,435h1v1h-1zM659,435h2v1h-2zM463,436h2v1h-2zM657,436h2v1h-2zM465,437h2v1h-2zM654,437h3v1h-3zM467,438h2v1h-2zM652,438h2v1h-2zM469,439h1v1h-1zM650,439h2v1h-2zM470,440h2v1h-2zM647,440h3v1h-3zM472,441h2v1h-2zM643,441h4v1h-4zM474,442h1v1h-1zM640,442h3v1h-3zM475,443h1v1h-1zM638,443h2v1h-2zM476,444h1v1h-1zM636,444h2v1h-2zM477,445h1v1h-1zM634,445h2v1h-2zM478,446h2v1h-2zM632,446h2v1h-2zM480,447h1v1h-1zM630,447h2v1h-2zM481,448h3v1h-3zM628,448h2v1h-2zM484,449h4v1h-4zM626,449h2v1h-2zM488,450h7v1h-7zM624,450h2v1h-2zM495,451h2v1h-2zM622,451h2v1h-2zM497,452h2v1h-2zM619,452h3v1h-3zM499,453h2v1h-2zM617,453h2v1h-2zM501,454h2v1h-2zM615,454h2v1h-2zM503,455h1v1h-1zM591,455h4v1h-4zM613,455h2v1h-2zM504,456h1v1h-1zM579,456h12v1h-12zM595,456h4v1h-4zM611,456h2v1h-2zM505,457h2v1h-2zM578,457h1v1h-1zM599,457h6v1h-6zM609,457h2v1h-2zM507,458h1v1h-1zM577,458h1v1h-1zM605,458h4v1h-4zM508,459h1v1h-1zM576,459h1v1h-1zM509,460h2v1h-2zM575,460h1v1h-1zM511,461h5v1h-5zM574,461h1v1h-1zM516,462h1v1h-1zM574,462h1v1h-1zM517,463h2v1h-2zM573,463h1v1h-1zM519,464h1v1h-1zM571,464h2v1h-2zM520,465h1v1h-1zM569,465h2v1h-2zM521,466h2v1h-2zM567,466h2v1h-2zM523,467h1v1h-1zM564,467h3v1h-3zM524,468h1v1h-1zM562,468h2v1h-2zM525,469h2v1h-2zM560,469h2v1h-2zM527,470h2v1h-2zM559,470h1v1h-1zM529,471h7v1h-7zM557,471h2v1h-2zM536,472h9v1h-9zM556,472h1v1h-1zM544,473h1v1h-1zM553,473h3v1h-3zM544,474h1v1h-1zM551,474h2v1h-2z" fill="#ff0000" shape-rendering="crispEdges"/>
<g shape-rendering="crispEdges">
<rect x="173" y="82" width="609" height="1" fill="#ff0000"/>
<rect x="173" y="198" width="595" height="1" fill="#ff0000"/>
<rect x="173" y="314" width="595" height="1" fill="#ff0000"/>
<rect x="173" y="430" width="595" height="1" fill="#ff0000"/>
<rect x="173" y="96" width="584" height="1" fill="#008000"/>
<rect x="173" y="212" width="577" height="1" fill="#008000"/>
<rect x="173" y="328" width="577" height="1" fill="#008000"/>
<rect x="173" y="444" width="577" height="1" fill="#008000"/>
<line x1="611" y1="279.5" x2="820" y2="279.5" stroke="#808080" stroke-width="1" stroke-dasharray="6 1" shape-rendering="crispEdges"/>
</g>
<path d="M173,82h1v1h-1zM174,83h1v1h-1zM175,84h1v1h-1zM176,85h1v1h-1zM177,86h1v1h-1zM178,87h1v1h-1zM178,88h1v1h-1zM179,89h1v1h-1zM180,90h1v1h-1zM181,91h1v1h-1zM182,92h1v1h-1zM183,93h1v1h-1zM184,94h1v1h-1zM185,95h1v1h-1zM186,96h1v1h-1zM187,97h1v1h-1zM187,98h1v1h-1zM188,99h1v1h-1zM189,100h1v1h-1zM190,101h1v1h-1zM191,102h1v1h-1zM192,103h1v1h-1zM193,104h1v1h-1zM194,105h1v1h-1zM195,106h1v1h-1zM196,107h1v1h-1zM197,108h1v1h-1zM197,109h1v1h-1zM198,110h1v1h-1zM199,111h1v1h-1zM200,112h1v1h-1zM201,113h1v1h-1zM202,114h1v1h-1zM203,115h1v1h-1zM204,116h1v1h-1zM205,117h1v1h-1zM206,118h1v1h-1zM206,119h1v1h-1zM207,120h1v1h-1zM208,121h1v1h-1zM209,122h1v1h-1zM210,123h1v1h-1zM211,124h1v1h-1zM212,125h1v1h-1zM213,126h1v1h-1zM214,127h1v1h-1zM215,128h1v1h-1zM216,129h1v1h-1zM216,130h1v1h-1zM217,131h1v1h-1zM218,132h1v1h-1zM219,133h1v1h-1zM220,134h1v1h-1zM221,135h1v1h-1zM222,136h1v1h-1zM223,137h1v1h-1zM224,138h1v1h-1zM225,139h1v1h-1zM226,140h1v1h-1zM226,141h1v1h-1zM227,142h1v1h-1zM228,143h1v1h-1zM229,144h1v1h-1zM230,145h1v1h-1zM231,146h1v1h-1zM232,147h1v1h-1zM233,148h1v1h-1zM234,149h1v1h-1zM235,150h1v1h-1zM235,151h1v1h-1zM236,152h1v1h-1zM237,153h1v1h-1zM238,154h1v1h-1zM239,155h1v1h-1zM240,156h1v1h-1zM241,157h1v1h-1zM242,158h1v1h-1zM243,159h1v1h-1zM244,160h1v1h-1zM245,161h1v1h-1zM245,162h1v1h-1zM246,163h1v1h-1zM247,164h1v1h-1zM248,165h1v1h-1zM249,166h1v1h-1zM250,167h1v1h-1zM251,168h1v1h-1zM252,169h1v1h-1zM253,170h1v1h-1zM254,171h1v1h-1zM254,172h1v1h-1zM255,173h1v1h-1zM256,174h1v1h-1zM257,175h1v1h-1zM258,176h1v1h-1zM259,177h1v1h-1zM260,178h1v1h-1zM261,179h1v1h-1zM262,180h1v1h-1zM263,181h1v1h-1zM264,182h1v1h-1zM264,183h1v1h-1zM265,184h1v1h-1zM266,185h1v1h-1zM267,186h1v1h-1zM268,187h1v1h-1zM269,188h1v1h-1zM270,189h1v1h-1zM271,190h1v1h-1zM272,191h1v1h-1zM273,192h1v1h-1zM273,193h1v1h-1zM274,194h1v1h-1zM275,195h1v1h-1zM276,196h1v1h-1zM277,197h1v1h-1zM278,198h1v1h-1z" fill="#ff0000" shape-rendering="crispEdges"/>
<path d="M176,83h2v1h-2zM178,84h4v1h-4zM182,85h4v1h-4zM186,86h4v1h-4zM190,87h3v1h-3z" fill="#0000ff" shape-rendering="crispEdges"/>
<path d="M541,329h2v1h-2zM537,330h4v1h-4zM533,331h4v1h-4zM529,332h4v1h-4zM525,333h4v1h-4zM523,334h2v1h-2z" fill="#0000ff" shape-rendering="crispEdges"/>
<text x="113.0" y="101" font-size="11.2" fill="#008000" stroke="#008000" class="b" textLength="60.5" lengthAdjust="spacingAndGlyphs">3555.6500</text>
<text x="113.0" y="203" font-size="11.2" fill="#ff0000" stroke="#ff0000" class="b" textLength="60.5" lengthAdjust="spacingAndGlyphs">3335.9900</text>
<text x="113.0" y="217" font-size="11.2" fill="#008000" stroke="#008000" class="b" textLength="60.5" lengthAdjust="spacingAndGlyphs">3304.6100</text>
<text x="113.0" y="319" font-size="11.2" fill="#ff0000" stroke="#ff0000" class="b" textLength="60.5" lengthAdjust="spacingAndGlyphs">3084.9500</text>
<text x="113.0" y="333" font-size="11.2" fill="#008000" stroke="#008000" class="b" textLength="60.5" lengthAdjust="spacingAndGlyphs">3053.5699</text>
<text x="113.0" y="435" font-size="11.2" fill="#ff0000" stroke="#ff0000" class="b" textLength="60.5" lengthAdjust="spacingAndGlyphs">2833.9099</text>
<text x="113.0" y="449" font-size="11.2" fill="#008000" stroke="#008000" class="b" textLength="60.5" lengthAdjust="spacingAndGlyphs">2802.5299</text>
<text x="756.8000000000001" y="101" font-size="11.2" fill="#008000" stroke="#008000" class="b" textLength="61.8" lengthAdjust="spacingAndGlyphs">12.5%(45)</text>
<text x="758.4" y="203" font-size="11.2" fill="#ff0000" stroke="#ff0000" class="b" textLength="60.2" lengthAdjust="spacingAndGlyphs">100.0%(0)</text>
<text x="750.2" y="217" font-size="11.2" fill="#008000" stroke="#008000" class="b" textLength="68.4" lengthAdjust="spacingAndGlyphs">112.5%(45)</text>
<text x="758.0" y="319" font-size="11.2" fill="#ff0000" stroke="#ff0000" class="b" textLength="60.6" lengthAdjust="spacingAndGlyphs">200.0%(0)</text>
<text x="750.2" y="333" font-size="11.2" fill="#008000" stroke="#008000" class="b" textLength="68.4" lengthAdjust="spacingAndGlyphs">212.5%(45)</text>
<text x="758.0" y="435" font-size="11.2" fill="#ff0000" stroke="#ff0000" class="b" textLength="60.6" lengthAdjust="spacingAndGlyphs">300.0%(0)</text>
<text x="750.2" y="449" font-size="11.2" fill="#008000" stroke="#008000" class="b" textLength="68.4" lengthAdjust="spacingAndGlyphs">312.5%(45)</text>
<text x="272" y="209" font-size="11.2" fill="#ff0000" stroke="#ff0000" class="b" textLength="53" lengthAdjust="spacingAndGlyphs">251.0400</text>
<text x="337" y="209" font-size="11.2" fill="#ff0000" stroke="#ff0000" class="b" textLength="36.5" lengthAdjust="spacingAndGlyphs">7.00%</text>
<path d="M725,16h1v1h-1zM724,17h2v1h-2zM725,18h1v1h-1zM725,19h1v1h-1zM725,20h1v1h-1zM725,21h1v1h-1zM725,22h1v1h-1zM725,23h1v1h-1zM724,24h3v1h-3z" fill="#0000ff" shape-rendering="crispEdges"/>
<path d="M732,16h1v1h-1zM732,17h1v1h-1zM731,18h1v1h-1zM733,18h1v1h-1zM731,19h1v1h-1zM733,19h1v1h-1zM731,20h1v1h-1zM733,20h1v1h-1zM731,21h3v1h-3zM730,22h1v1h-1zM734,22h1v1h-1zM730,23h1v1h-1zM734,23h1v1h-1zM729,24h3v1h-3zM733,24h3v1h-3z" fill="#0000ff" shape-rendering="crispEdges"/>
<path d="M738,16h3v1h-3zM737,17h1v1h-1zM741,17h1v1h-1zM737,18h1v1h-1zM741,18h1v1h-1zM737,19h1v1h-1zM741,19h1v1h-1zM737,20h1v1h-1zM741,20h1v1h-1zM737,21h1v1h-1zM741,21h1v1h-1zM737,22h1v1h-1zM741,22h1v1h-1zM737,23h1v1h-1zM741,23h1v1h-1zM738,24h3v1h-3z" fill="#0000ff" shape-rendering="crispEdges"/>
<path d="M745,16h3v1h-3zM744,17h1v1h-1zM748,17h1v1h-1zM744,18h1v1h-1zM748,18h1v1h-1zM744,19h1v1h-1zM748,19h1v1h-1zM744,20h1v1h-1zM748,20h1v1h-1zM744,21h1v1h-1zM748,21h1v1h-1zM744,22h1v1h-1zM748,22h1v1h-1zM744,23h1v1h-1zM748,23h1v1h-1zM745,24h3v1h-3z" fill="#0000ff" shape-rendering="crispEdges"/>
<path d="M752,16h3v1h-3zM751,17h1v1h-1zM755,17h1v1h-1zM751,18h1v1h-1zM755,18h1v1h-1zM751,19h1v1h-1zM755,19h1v1h-1zM751,20h1v1h-1zM755,20h1v1h-1zM751,21h1v1h-1zM755,21h1v1h-1zM751,22h1v1h-1zM755,22h1v1h-1zM751,23h1v1h-1zM755,23h1v1h-1zM752,24h3v1h-3z" fill="#0000ff" shape-rendering="crispEdges"/>
<path d="M760,16h1v1h-1zM759,17h2v1h-2zM760,18h1v1h-1zM760,19h1v1h-1zM760,20h1v1h-1zM760,21h1v1h-1zM760,22h1v1h-1zM760,23h1v1h-1zM759,24h3v1h-3z" fill="#0000ff" shape-rendering="crispEdges"/>
<path d="M776,14h1v1h-1zM776,15h1v1h-1zM776,16h1v1h-1zM776,17h1v1h-1zM776,18h6v1h-6zM776,19h1v1h-1zM776,20h1v1h-1zM776,21h1v1h-1zM776,22h1v1h-1zM776,23h1v1h-1zM776,24h1v1h-1zM772,25h11v1h-11z" fill="#0000ff" shape-rendering="crispEdges"/>
<path d="M785,14h1v1h-1zM786,15h1v1h-1zM788,15h9v1h-9zM792,16h1v1h-1zM792,17h1v1h-1zM785,18h2v1h-2zM792,18h1v1h-1zM786,19h1v1h-1zM789,19h1v1h-1zM792,19h1v1h-1zM786,20h1v1h-1zM789,20h1v1h-1zM792,20h5v1h-5zM786,21h1v1h-1zM789,21h1v1h-1zM792,21h1v1h-1zM786,22h1v1h-1zM789,22h1v1h-1zM792,22h1v1h-1zM786,23h2v1h-2zM789,23h1v1h-1zM792,23h1v1h-1zM786,24h1v1h-1zM789,24h1v1h-1zM792,24h1v1h-1zM788,25h9v1h-9z" fill="#0000ff" shape-rendering="crispEdges"/>
<path d="M800,14h1v1h-1zM803,14h1v1h-1zM808,14h1v1h-1zM800,15h1v1h-1zM803,15h1v1h-1zM806,15h2v1h-2zM800,16h1v1h-1zM803,16h3v1h-3zM798,17h4v1h-4zM803,17h6v1h-6zM800,18h1v1h-1zM800,19h1v1h-1zM803,19h6v1h-6zM800,20h1v1h-1zM803,20h1v1h-1zM808,20h1v1h-1zM798,21h4v1h-4zM803,21h1v1h-1zM808,21h1v1h-1zM800,22h1v1h-1zM803,22h6v1h-6zM800,23h1v1h-1zM803,23h1v1h-1zM808,23h1v1h-1zM800,24h1v1h-1zM803,24h1v1h-1zM808,24h1v1h-1zM799,25h2v1h-2zM803,25h6v1h-6z" fill="#0000ff" shape-rendering="crispEdges"/>
<path d="M814,14h1v1h-1zM818,14h1v1h-1zM812,15h1v1h-1zM814,15h1v1h-1zM816,15h1v1h-1zM818,15h1v1h-1zM814,16h1v1h-1zM818,16h1v1h-1zM811,17h11v1h-11zM814,18h1v1h-1zM819,18h1v1h-1zM821,18h1v1h-1zM813,19h1v1h-1zM815,19h1v1h-1zM819,19h1v1h-1zM821,19h1v1h-1zM811,20h2v1h-2zM816,20h2v1h-2zM819,20h1v1h-1zM821,20h1v1h-1zM815,21h1v1h-1zM819,21h1v1h-1zM821,21h1v1h-1zM811,22h7v1h-7zM820,22h1v1h-1zM813,23h1v1h-1zM815,23h1v1h-1zM819,23h1v1h-1zM821,23h1v1h-1zM812,24h1v1h-1zM816,24h1v1h-1zM818,24h1v1h-1zM822,24h1v1h-1zM811,25h2v1h-2zM817,25h2v1h-2zM822,25h1v1h-1z" fill="#0000ff" shape-rendering="crispEdges"/>
<path d="M248,199h1v1h-1zM251,199h8v1h-8zM249,200h1v1h-1zM251,200h1v1h-1zM255,200h1v1h-1zM258,200h1v1h-1zM251,201h1v1h-1zM255,201h1v1h-1zM258,201h1v1h-1zM251,202h1v1h-1zM254,202h3v1h-3zM258,202h1v1h-1zM248,203h2v1h-2zM251,203h1v1h-1zM253,203h6v1h-6zM249,204h1v1h-1zM251,204h1v1h-1zM258,204h1v1h-1zM249,205h1v1h-1zM251,205h1v1h-1zM258,205h1v1h-1zM249,206h1v1h-1zM251,206h1v1h-1zM254,206h3v1h-3zM258,206h1v1h-1zM249,207h1v1h-1zM251,207h1v1h-1zM254,207h1v1h-1zM256,207h1v1h-1zM258,207h1v1h-1zM249,208h3v1h-3zM254,208h3v1h-3zM258,208h1v1h-1zM249,209h1v1h-1zM251,209h1v1h-1zM258,209h1v1h-1zM250,210h1v1h-1zM256,210h3v1h-3z" fill="#ff0000" shape-rendering="crispEdges"/>
<path d="M263,199h1v1h-1zM267,199h1v1h-1zM260,200h7v1h-7zM268,200h3v1h-3zM261,201h1v1h-1zM263,201h1v1h-1zM265,201h1v1h-1zM269,201h1v1h-1zM261,202h5v1h-5zM267,202h1v1h-1zM269,202h1v1h-1zM262,203h3v1h-3zM268,203h1v1h-1zM261,204h1v1h-1zM263,204h1v1h-1zM265,204h1v1h-1zM267,204h1v1h-1zM269,204h1v1h-1zM260,205h11v1h-11zM264,206h1v1h-1zM262,207h1v1h-1zM264,207h1v1h-1zM262,208h1v1h-1zM264,208h6v1h-6zM262,209h1v1h-1zM264,209h1v1h-1zM260,210h11v1h-11z" fill="#ff0000" shape-rendering="crispEdges"/>
<path d="M330,199h1v1h-1zM330,200h6v1h-6zM330,201h1v1h-1zM330,202h1v1h-1zM326,203h9v1h-9zM326,204h1v1h-1zM334,204h1v1h-1zM326,205h1v1h-1zM334,205h1v1h-1zM326,206h1v1h-1zM334,206h1v1h-1zM326,207h9v1h-9zM326,209h1v1h-1zM328,209h1v1h-1zM331,209h1v1h-1zM334,209h1v1h-1zM325,210h1v1h-1zM329,210h1v1h-1zM332,210h1v1h-1zM335,210h1v1h-1z" fill="#ff0000" shape-rendering="crispEdges"/>
</svg></body></html>
